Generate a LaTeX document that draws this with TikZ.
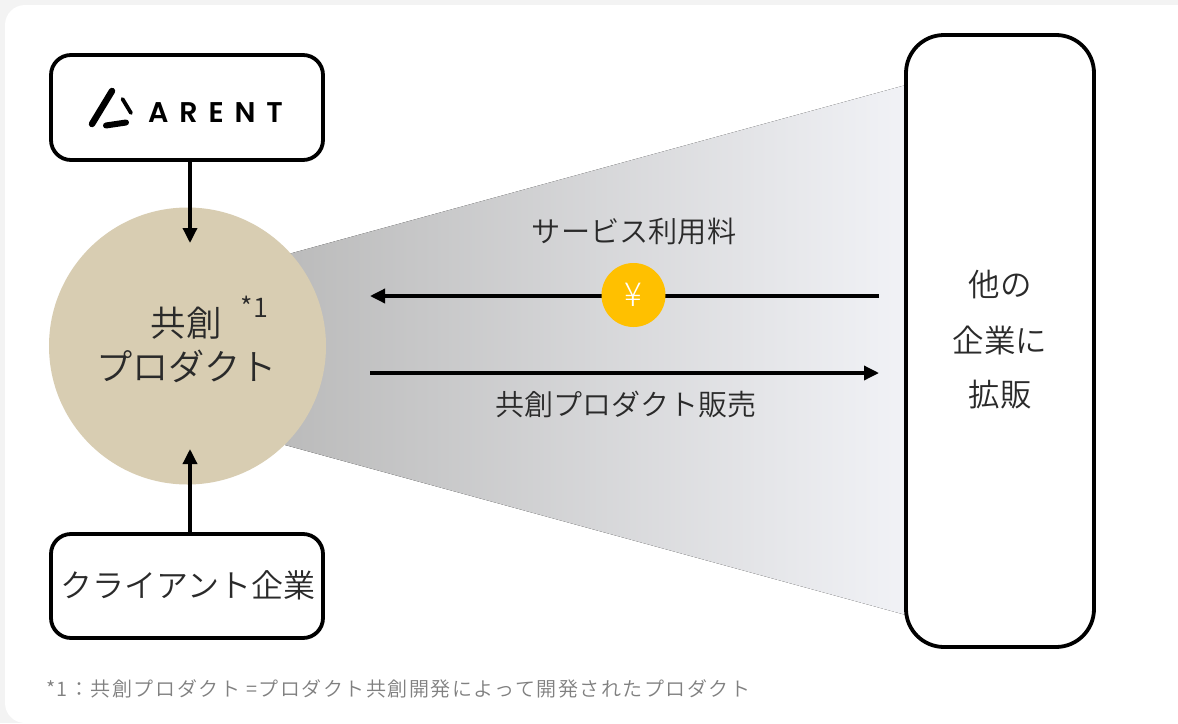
\documentclass[tikz,border=0pt]{standalone}
\usepackage{fontspec}
\setmainfont[UprightFont=* DemiLight]{Noto Sans CJK JP}
\newfontfamily\logofont[UprightFont=* SemiBold,LetterSpace=38]{Poppins}
\newfontfamily\noteface[UprightFont=* DemiLight,LetterSpace=7.6]{Noto Sans CJK JP}
\newfontfamily\thinface[UprightFont=* Light]{Noto Sans CJK JP}
\usetikzlibrary{arrows.meta}
\definecolor{ink}{HTML}{2A2A2A}
\definecolor{fanL}{HTML}{BBBBBB}
\definecolor{fanR}{HTML}{F1F2F6}
\definecolor{page}{HTML}{F3F3F3}
\definecolor{notegray}{HTML}{808080}
\definecolor{sand}{HTML}{D8CDB2}
\definecolor{gold}{HTML}{FFC000}
\tikzset{
  x=1pt,y=-1pt,
  boxed/.style={draw=black,line width=3.8pt,fill=white,rounded corners=#1,inner sep=0pt},
  flow/.style={draw=black,line width=3.4pt,-{Triangle[length=15pt,width=14pt]}},
  label/.style={text=ink,inner sep=0pt,align=center},
  stroke/.style={line cap=round,line width=#1,draw=black}
}
\begin{document}
\begin{tikzpicture}
\useasboundingbox (0,0) rectangle (1178,723);
\fill[page] (0,0) rectangle (1178,723);
\fill[white,rounded corners=20pt] (1230,5) -- (5,5) -- (5,723) -- (1230,723) -- cycle;
\fill[white] (1100,5) rectangle (1178,723);
\fill[white] (30,700) rectangle (1178,723);
% fan
\fill[left color=fanL,right color=fanR] (285,255) -- (906,85) -- (906,615) -- (285,445) -- cycle;
% main shapes
\node[circle,fill=sand,minimum size=277pt,inner sep=0pt] (prod) at (187.5,346) {};
\node[boxed=20pt,minimum width=272pt,minimum height=105pt] (arent) at (187,107.5) {};
\node[boxed=20pt,minimum width=272pt,minimum height=104pt] (client) at (187,586) {};
\node[boxed=38pt,minimum width=188pt,minimum height=612pt] (other) at (1000,341) {};
% logo
\draw[stroke=6.5pt] (112,91) -- (92,124);
\draw[stroke=3.8pt] (122.5,99) -- (131,113);
\draw[stroke=6pt] (106,125.5) -- (126,122.5);
\node[inner sep=0pt,anchor=base west,text=black] (arenttext) at (148,122) {\logofont\fontsize{28.5}{28.5}\selectfont ARENT};
% vertical connectors
\coordinate (aIn) at (190,243);
\coordinate (cIn) at (190,449);
\draw[flow] (arent.south -| aIn) -- (aIn);
\draw[flow] (client.north -| cIn) -- (cIn);
% horizontal connectors
\coordinate (r1) at (879,296);
\coordinate (l1) at (370,296);
\coordinate (l2) at (370,373);
\coordinate (r2) at (879,373);
\draw[flow] (r1) -- (l1);
\draw[flow] (l2) -- (r2);
\node[circle,fill=gold,minimum size=64pt,inner sep=0pt,text=white,font=\thinface\fontsize{33}{33}\selectfont] (yen) at (633.5,295) {¥};
% labels
\node[label,font=\fontsize{29.2}{29.2}\selectfont] (fee) at (634,231) {サービス利用料};
\node[label,font=\fontsize{29}{29}\selectfont] (sale) at (625.5,404) {共創プロダクト販売};
\node[label,font=\fontsize{35.5}{35.5}\selectfont] (kyoso) at (186,323) {共創};
\node[label,font=\fontsize{36.2}{36.2}\selectfont] (prodt) at (186.5,366) {プロダクト};
\node[label,font=\fontsize{27}{27}\selectfont] (star) at (254.5,307) {*1};
\node[label,font=\fontsize{32}{32}\selectfont] (clientt) at (188,585) {クライアント企業};
\node[label,font=\fontsize{31.5}{31.5}\selectfont] (o1) at (1000,285) {他の};
\node[label,font=\fontsize{31.5}{31.5}\selectfont] (o2) at (1000,340) {企業に};
\node[label,font=\fontsize{31.5}{31.5}\selectfont] (o3) at (1000,395) {拡販};
\node[inner sep=0pt,anchor=west,text=notegray] (note) at (46,689) {\noteface\fontsize{20}{20}\selectfont *1：共創プロダクト =プロダクト共創開発によって開発されたプロダクト};
\end{tikzpicture}
\end{document}
